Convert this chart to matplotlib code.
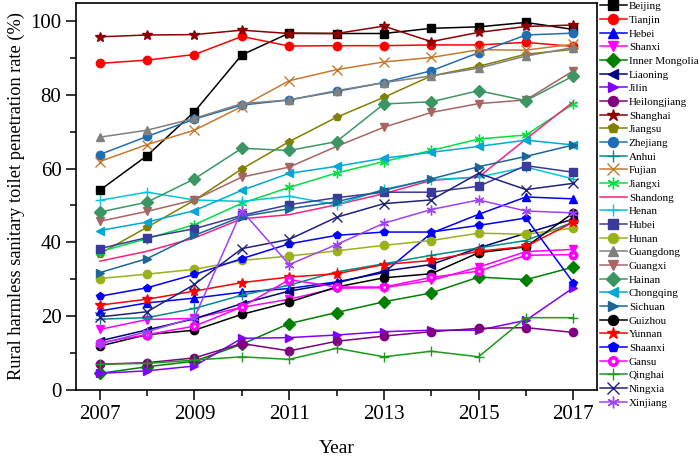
import matplotlib
matplotlib.use("Agg")
import matplotlib.pyplot as plt
from matplotlib.ticker import MultipleLocator

plt.rcParams['font.family'] = ['Liberation Serif', 'DejaVu Serif']

years = list(range(2007, 2018))

# penetration rate (%)
beijing = [54.1, 63.5, 75.4, 90.8, 96.7, 96.6, 96.6, 98.0, 98.4, 99.6, 97.7]
tianjin = [88.5, 89.4, 90.9, 95.8, 93.2, 93.3, 93.3, 93.5, 93.5, 94.2, 93.1]
hebei = [21.4, 23.6, 24.9, 26.5, 27.5, 29.3, 31.8, 42.5, 47.6, 52.3, 51.8]
shanxi = [16.4, 19.1, 19.4, 22.4, 24.6, 27.6, 27.7, 29.7, 33.3, 37.5, 38.1]
inner_mongolia = [4.5, 6.3, 7.8, 12.4, 18.0, 21.0, 23.9, 26.3, 30.6, 29.9, 33.3]
liaoning = [13.3, 16.3, 19.3, 23.4, 26.8, 29.0, 32.2, 34.0, 38.5, 42.5, 46.3]
jilin = [4.5, 5.2, 6.5, 14.0, 14.2, 14.9, 15.8, 16.2, 16.2, 18.9, 27.7]
heilongjiang = [7.0, 7.4, 8.7, 12.6, 10.6, 13.2, 14.6, 15.8, 16.7, 16.9, 15.6]
shanghai = [95.7, 96.2, 96.3, 97.5, 96.6, 96.6, 98.6, 94.4, 96.9, 98.5, 98.9]
jiangsu = [36.9, 44.1, 51.4, 59.9, 67.3, 73.9, 79.3, 85.1, 87.7, 91.0, 92.3]
zhejiang = [63.8, 68.7, 73.4, 77.2, 78.6, 80.9, 83.3, 86.5, 91.4, 96.2, 96.7]
anhui = [19.2, 19.6, 22.1, 25.7, 28.4, 32.0, 34.2, 36.5, 38.5, 40.5, 45.5]
fujian = [61.9, 66.5, 70.4, 76.8, 83.8, 86.8, 88.9, 90.1, 92.2, 92.1, 93.7]
jiangxi = [37.5, 41.0, 44.8, 50.6, 54.9, 58.8, 61.9, 64.9, 68.0, 69.1, 77.5]
shandong = [34.9, 37.6, 41.2, 46.4, 47.5, 50.2, 53.2, 56.8, 57.7, 68.0, 78.1]
henan = [51.4, 53.6, 51.5, 51.1, 52.5, 50.2, 54.4, 57.0, 57.7, 60.4, 57.2]
hubei = [38.3, 41.3, 43.7, 47.3, 50.2, 52.1, 53.6, 53.6, 55.2, 60.8, 59.0]
hunan = [30.2, 31.4, 32.7, 35.1, 36.3, 37.7, 39.2, 40.5, 42.5, 42.2, 43.9]
guangdong = [68.5, 70.4, 73.6, 77.6, 78.6, 81.1, 83.3, 85.1, 87.2, 90.5, 92.8]
guangxi = [45.7, 48.4, 51.5, 57.7, 60.4, 66.0, 71.2, 75.2, 77.6, 78.6, 86.5]
hainan = [48.2, 50.9, 57.2, 65.5, 64.9, 67.3, 77.5, 78.1, 81.1, 78.4, 85.1]
chongqing = [43.2, 45.5, 48.6, 54.1, 58.7, 60.6, 62.8, 64.4, 66.0, 67.7, 66.4]
sichuan = [31.8, 35.6, 41.9, 47.0, 49.1, 51.0, 54.1, 57.2, 60.5, 63.3, 66.4]
guizhou = [11.9, 15.0, 16.2, 20.5, 23.8, 27.9, 30.4, 31.5, 37.2, 38.8, 48.0]
yunnan = [23.0, 24.6, 26.8, 29.1, 30.6, 31.5, 34.0, 35.1, 37.6, 38.9, 45.5]
shaanxi = [25.4, 27.7, 31.3, 35.6, 39.6, 41.9, 42.8, 42.8, 44.6, 46.6, 29.1]
gansu = [12.8, 15.0, 17.3, 22.5, 29.9, 27.9, 27.9, 30.5, 32.2, 36.5, 36.7]
qinghai = [7.0, 7.2, 8.1, 9.0, 8.3, 11.3, 9.0, 10.5, 9.0, 19.6, 19.6]
ningxia = [19.8, 21.2, 28.6, 38.3, 40.8, 46.8, 50.5, 51.5, 58.7, 54.3, 56.0]
xinjiang = [12.5, 15.8, 19.6, 48.6, 34.0, 39.4, 45.2, 48.9, 51.5, 48.5, 48.0]

star6 = (6, 2, 0)  # asterisk marker

# label, values, colour, marker
series = [
    ("Beijing", beijing, "#000000", "s"),
    ("Tianjin", tianjin, "#FF0000", "o"),
    ("Hebei", hebei, "#0000FF", "^"),
    ("Shanxi", shanxi, "#FF00FF", "v"),
    ("Inner Mongolia", inner_mongolia, "#008000", "D"),
    ("Liaoning", liaoning, "#000080", "<"),
    ("Jilin", jilin, "#8000FF", ">"),
    ("Heilongjiang", heilongjiang, "#800080", "o"),
    ("Shanghai", shanghai, "#8B0000", "*"),
    ("Jiangsu", jiangsu, "#808000", "p"),
    ("Zhejiang", zhejiang, "#1E6EB4", "o"),
    ("Anhui", anhui, "#008B8B", "+"),
    ("Fujian", fujian, "#C8782D", "x"),
    ("Jiangxi", jiangxi, "#00E040", star6),
    ("Shandong", shandong, "#FF1F7F", None),
    ("Henan", henan, "#00C8D8", "+"),
    ("Hubei", hubei, "#3A3A9A", "s"),
    ("Hunan", hunan, "#99B21C", "o"),
    ("Guangdong", guangdong, "#808080", "^"),
    ("Guangxi", guangxi, "#A86464", "v"),
    ("Hainan", hainan, "#3C9664", "D"),
    ("Chongqing", chongqing, "#00A8D8", "<"),
    ("Sichuan", sichuan, "#1A6696", ">"),
    ("Guizhou", guizhou, "#000000", "o"),
    ("Yunnan", yunnan, "#FF0000", "*"),
    ("Shaanxi", shaanxi, "#0000FF", "p"),
    ("Gansu", gansu, "#FF00FF", "o"),
    ("Qinghai", qinghai, "#1A9A1A", "+"),
    ("Ningxia", ningxia, "#202080", "x"),
    ("Xinjiang", xinjiang, "#A040FF", star6),
]

fig = plt.figure(figsize=(6.99, 4.57), dpi=100)
ax = fig.add_axes([76/699, (457-390)/457, (597-76)/699, (390-2.5)/457])

for name, vals, col, mk in series:
    kw = dict(color=col, lw=1.1, label=name)
    if mk is not None:
        ms = 7.5 if mk == "*" else 6
        if mk in ("+", "x", star6):
            kw.update(marker=mk, ms=7, mew=1.0)
        elif name == "Gansu":
            kw.update(marker=mk, ms=4.5, mfc="white", mec=col, mew=2.6)
        else:
            kw.update(marker=mk, ms=ms, mec=col, mfc=col)
    ax.plot(years, vals, **kw)

ax.set_xlim(2006.5, 2017.5)
ax.set_ylim(0, 105)
ax.xaxis.set_minor_locator(MultipleLocator(1))
ax.yaxis.set_major_locator(MultipleLocator(20))
ax.yaxis.set_minor_locator(MultipleLocator(10))
ax.set_xticks([2007, 2009, 2011, 2013, 2015, 2017])
ax.tick_params(which="major", length=7, width=1.1, labelsize=15, direction="out")
ax.tick_params(which="minor", length=4, width=1.1, direction="out")
for s in ax.spines.values():
    s.set_linewidth(1.2)

ax.set_xlabel("Year", fontsize=14, labelpad=12)
ax.set_ylabel("Rural harmless sanitary toilet penetration rate (%)", fontsize=13.2, labelpad=4)

fig.legend(loc="upper left", bbox_to_anchor=(600/699, 1 - 1.5/457), frameon=False,
           fontsize=8, handlelength=2.4, handletextpad=0.2, labelspacing=0.35,
           borderaxespad=0, borderpad=0.0, markerscale=1.2)

fig.savefig("out.png", dpi=100)
